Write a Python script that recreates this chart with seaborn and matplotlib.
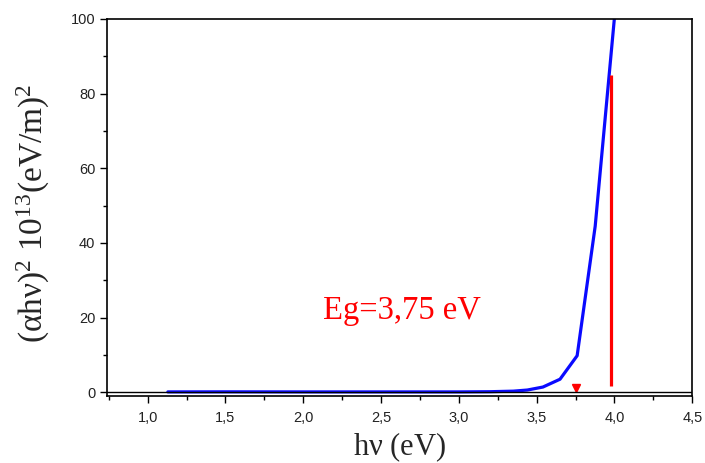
import matplotlib
matplotlib.use('Agg')
import matplotlib.pyplot as plt
import matplotlib.ticker as mticker
import seaborn as sns

# Tauc plot data
hv = [1.13, 1.5, 2.0, 2.5, 3.0, 3.2, 3.35, 3.44, 3.54, 3.65, 3.76, 3.876, 4.0]
alpha_hv2 = [0.1, 0.12, 0.1, 0.1, 0.1, 0.15, 0.3, 0.6, 1.4, 3.5, 9.8, 44.5, 100.5]

eg_line_x = [3.98, 3.98]
eg_line_y = [1.7, 85]
eg_value = 3.75
eg_label = 'Eg=3,75 eV'

sns.set_style('white')
plt.rcParams['mathtext.fontset'] = 'custom'
plt.rcParams['mathtext.rm'] = 'Liberation Serif'
plt.rcParams['mathtext.it'] = 'Liberation Serif:italic'

fig = plt.figure(figsize=(7.05, 4.63), dpi=100)
ax = fig.add_axes([0.152, 0.1447, 0.830, 0.8143])

sns.lineplot(x=hv, y=alpha_hv2, ax=ax, color='#0a0aff', linewidth=2.3)
ax.plot(eg_line_x, eg_line_y, color='red', linewidth=2.3, solid_capstyle='butt')
ax.plot([eg_value], [1.1], marker='v', color='red', markersize=6, linestyle='none')
ax.axhline(0, color='black', linewidth=1)

ax.text(2.13, 19.7, eg_label, color='red', fontsize=23.5, family='Liberation Serif',
        va='baseline', ha='left')

ax.set_xlim(0.74, 4.5)
ax.set_ylim(-1.0, 100)
ax.xaxis.set_major_locator(mticker.MultipleLocator(0.5))
ax.xaxis.set_minor_locator(mticker.MultipleLocator(0.25))
ax.yaxis.set_major_locator(mticker.MultipleLocator(20))
ax.yaxis.set_minor_locator(mticker.MultipleLocator(10))
ax.xaxis.set_major_formatter(mticker.FuncFormatter(lambda v, p: f'{v:.1f}'.replace('.', ',')))
ax.yaxis.set_major_formatter(mticker.FuncFormatter(lambda v, p: f'{v:.0f}'))

ax.tick_params(which='both', direction='out', bottom=True, left=True, top=False, right=False,
               labelsize=10.5, color='black', labelcolor='#222222')
ax.tick_params(which='major', length=5, width=1)
ax.tick_params(which='minor', length=3, width=1)
ax.tick_params(axis='x', which='major', pad=6)
for lbl in ax.get_xticklabels() + ax.get_yticklabels():
    lbl.set_family('Liberation Sans')
for s in ax.spines.values():
    s.set_color('black')
    s.set_linewidth(1.2)

ax.set_xlabel(r'$\mathrm{h\nu\ (eV)}$', fontsize=22, labelpad=4)
ax.set_ylabel(r'$\mathrm{(\alpha h\nu)^2\ 10^{13}(eV/m)^2}$', fontsize=24)
ax.yaxis.set_label_coords(-0.094, 0.485)

fig.savefig('out.png', dpi=100)
